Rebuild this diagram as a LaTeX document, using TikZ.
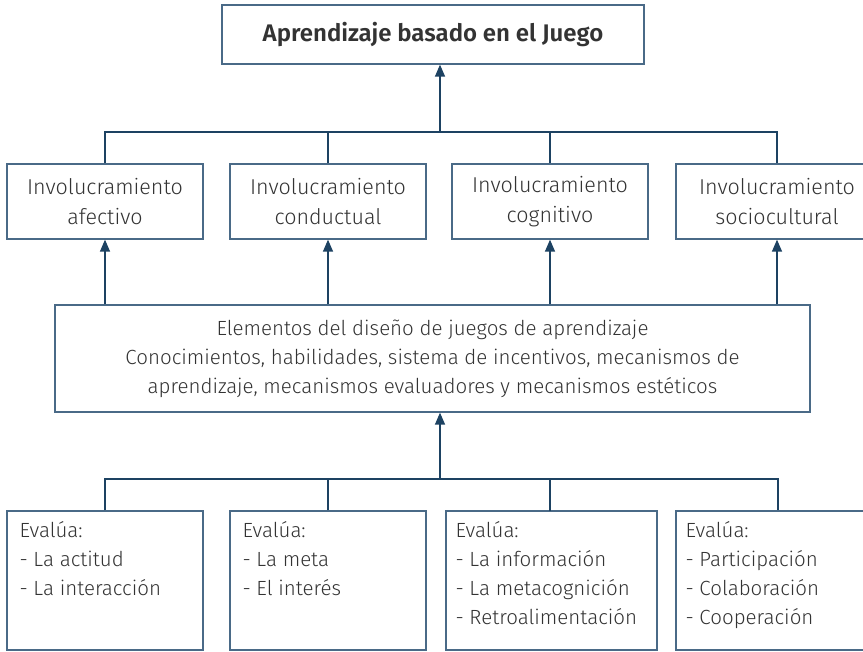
\documentclass[tikz,border=0pt]{standalone}
\usepackage{fontspec}
\setmainfont{Fira Sans}[UprightFont=* Light, BoldFont=* SemiBold]
\usetikzlibrary{arrows.meta}
\definecolor{boxc}{HTML}{4A6A87}
\definecolor{linec}{HTML}{1D4262}
\definecolor{txt}{HTML}{333333}
\begin{document}
\begin{tikzpicture}[x=1pt,y=-1pt,
  box/.style={draw=boxc,line width=1.3pt,fill=white,inner sep=0pt,text=txt,align=center,font=\fontsize{20.5}{29}\selectfont},
  midbox/.style={box,minimum height=75pt,font=\fontsize{21.5}{30}\selectfont},
  conn/.style={draw=linec,line width=1.3pt},
  arr/.style={conn,-{Triangle[length=12pt,width=10pt]}},
  lst/.style={anchor=north west,inner sep=0pt,align=left,text=txt,font=\fontsize{20.5}{29}\selectfont}]
\useasboundingbox[fill=white] (0,0) rectangle (863,652);
% top
\node[box,minimum width=422pt,minimum height=59pt,font=\fontsize{24}{28}\selectfont\bfseries] (top) at (433,34.5) {Aprendizaje basado en el Juego};
% middle row
\node[midbox,minimum width=196pt] (m1) at (105,201.5) {Involucramiento\\afectivo};
\node[midbox,minimum width=196pt] (m2) at (328,201.5) {Involucramiento\\conductual};
\node[midbox,minimum width=196pt] (m3) at (550,201.5) {Involucramiento\\cognitivo};
\node[midbox,minimum width=202pt] (m4) at (777,201.5) {Involucramiento\\sociocultural};
% elements
\node[box,minimum width=755pt,minimum height=107pt] (el) at (432.5,358.5) {Elementos del diseño de juegos de aprendizaje\\Conocimientos, habilidades, sistema de incentivos, mecanismos de\\aprendizaje, mecanismos evaluadores y mecanismos estéticos};
% bottom boxes
\node[box,minimum width=196pt,minimum height=139pt] (b1) at (105,580.5) {};
\node[box,minimum width=196pt,minimum height=139pt] (b2) at (328,580.5) {};
\node[box,minimum width=211pt,minimum height=139pt] (b3) at (551.5,580.5) {};
\node[box,minimum width=202pt,minimum height=139pt] (b4) at (777,580.5) {};
\node[lst] (t1) at ([xshift=13pt,yshift=-11pt]b1.north west) {Evalúa:\\- La actitud\\- La interacción};
\node[lst] (t2) at ([xshift=13pt,yshift=-11pt]b2.north west) {Evalúa:\\- La meta\\- El interés};
\node[lst] (t3) at ([xshift=10pt,yshift=-11pt]b3.north west) {Evalúa:\\- La información\\- La metacognición\\- Retroalimentación};
\node[lst] (t4) at ([xshift=10pt,yshift=-11pt]b4.north west) {Evalúa:\\- Participación\\- Colaboración\\- Cooperación};
% upper connectors
\coordinate (h1) at (105,132);
\coordinate (h4) at (777,132);
\coordinate (ha) at (440,132);
\draw[conn] (m1.north) -- (h1) -- (h4) -- (m4.north);
\draw[conn] (m2.north) -- (m2.north|-h1);
\draw[conn] (m3.north) -- (m3.north|-h1);
\draw[arr] (ha) -- (ha|-top.south);
% middle arrows
\foreach \m in {m1,m2,m3,m4}{\draw[arr] (\m.south|-el.north) -- (\m.south);}
% lower connectors
\coordinate (g1) at (105,479);
\coordinate (g4) at (778,479);
\coordinate (ga) at (440,479);
\draw[conn] (b1.north) -- (g1) -- (g4) -- (b4.north-|g4);
\draw[conn] (b2.north) -- (b2.north|-g1);
\draw[conn] (550,511) coordinate (b3t) -- (b3t|-g1);
\draw[arr] (ga) -- (ga|-el.south);
\end{tikzpicture}
\end{document}
